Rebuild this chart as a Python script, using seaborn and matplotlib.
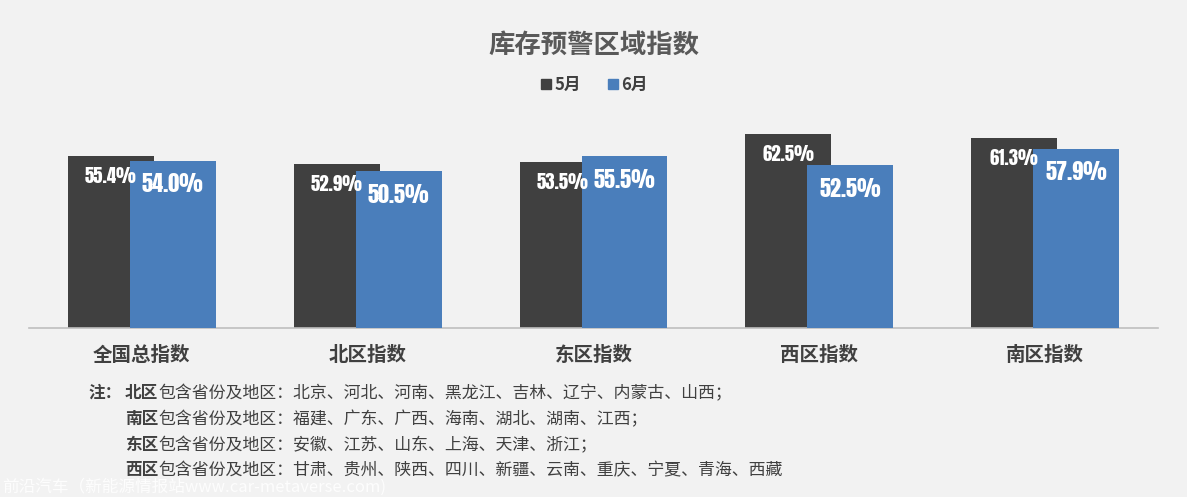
import numpy as np
import pandas as pd
import matplotlib
matplotlib.use("Agg")
import matplotlib.pyplot as plt
from matplotlib import font_manager
import seaborn as sns
from matplotlib.lines import Line2D

# ---------------- data ----------------
categories = ["全国总指数", "北区指数", "东区指数", "西区指数", "南区指数"]
may_values = [55.4, 52.9, 53.5, 62.5, 61.3]
june_values = [54.0, 50.5, 55.5, 52.5, 57.9]
series_names = ["5月", "6月"]
title_text = "库存预警区域指数"
note_prefix = "注："
note_regions = ["北区", "南区", "东区", "西区"]
note_texts = [
    "包含省份及地区：北京、河北、河南、黑龙江、吉林、辽宁、内蒙古、山西；",
    "包含省份及地区：福建、广东、广西、海南、湖北、湖南、江西；",
    "包含省份及地区：安徽、江苏、山东、上海、天津、浙江；",
    "包含省份及地区：甘肃、贵州、陕西、四川、新疆、云南、重庆、宁夏、青海、西藏",
]
watermark = "前沿汽车（新能源情报站www.car-metaverse.com)"

# ---------------- style ----------------
sns.set_style("white")
plt.rcParams["font.family"] = ["Noto Sans CJK SC", "DejaVu Sans"]
BG = "#f2f2f2"
DARK = "#404040"
BLUE = "#4a7ebb"
TEXT = "#404040"


def _w(v):
    try:
        return int(v)
    except Exception:
        return 700 if "bold" in str(v) else 400


fonts = font_manager.fontManager.ttflist
NUM_FONT, NUM_WEIGHT, NUM_SCALE = "DejaVu Sans", "bold", 0.8
for cand, need_bold, scale in [("Anton", False, 0.9), ("Oswald", True, 1.0),
                               ("Roboto Condensed", True, 0.95),
                               ("Liberation Sans Narrow", True, 0.9)]:
    ok = [f for f in fonts if f.name == cand and (not need_bold or _w(f.weight) >= 600)]
    if ok:
        NUM_FONT, NUM_WEIGHT, NUM_SCALE = cand, ("bold" if need_bold else "normal"), scale
        break
NUM_FAMILY = [NUM_FONT, "DejaVu Sans"]

W, H = 1187, 497
fig = plt.figure(figsize=(W / 100, H / 100), dpi=100, facecolor=BG)
ax = fig.add_axes([29 / W, 1 - 328 / H, (1158 - 29) / W, 217 / H])
ax.set_facecolor(BG)

pos = np.arange(len(categories))
off = 0.137
bw = 0.38
df_may = pd.DataFrame({"x": pos - off, "y": may_values})
df_jun = pd.DataFrame({"x": pos + off, "y": june_values})

sns.barplot(data=df_may, x="x", y="y", native_scale=True, width=bw, color=DARK,
            saturation=1, linewidth=0, errorbar=None, ax=ax, zorder=2)
sns.barplot(data=df_jun, x="x", y="y", native_scale=True, width=bw, color=BLUE,
            saturation=1, linewidth=0, errorbar=None, ax=ax, zorder=3)

for i in range(len(categories)):
    ax.annotate(f"{may_values[i]:.1f}%", xy=(pos[i] - off, may_values[i]),
                xytext=(0, -14.5), textcoords="offset points", ha="center", va="center",
                color="white", fontsize=15 * NUM_SCALE, fontweight=NUM_WEIGHT,
                family=NUM_FAMILY, zorder=6)
    ax.annotate(f"{june_values[i]:.1f}%", xy=(pos[i] + off, june_values[i]),
                xytext=(0, -17), textcoords="offset points", ha="center", va="center",
                color="white", fontsize=17.8 * NUM_SCALE, fontweight=NUM_WEIGHT,
                family=NUM_FAMILY, zorder=6)

ax.set_xlim(-0.5, len(categories) - 0.5)
ax.set_ylim(0, 70)
ax.set_yticks([])
ax.set_xlabel("")
ax.set_ylabel("")
ax.set_xticks(pos, categories)
ax.set_xticks(np.arange(-0.5, len(categories), 1), minor=True)
ax.tick_params(axis="x", which="major", length=0, pad=13, labelsize=14, labelcolor=TEXT)
ax.tick_params(axis="x", which="minor", length=4, width=1, color="#bfbfbf")
for t in ax.get_xticklabels():
    t.set_fontweight("bold")
for s in ["top", "left", "right"]:
    ax.spines[s].set_visible(False)
ax.spines["bottom"].set_color("#bfbfbf")
ax.spines["bottom"].set_linewidth(1.2)

fig.text(0.5, 1 - 45 / H, title_text, ha="center", va="center", fontsize=19,
         fontweight="bold", color="#595959")
handles = [Line2D([], [], marker="s", ls="", color=c, markersize=7, label=n)
           for c, n in zip([DARK, BLUE], series_names)]
fig.legend(handles=handles, loc="center", bbox_to_anchor=(0.5, 1 - 85 / H), ncol=2,
           frameon=False, prop={"weight": "bold", "size": 12}, labelcolor=TEXT,
           handletextpad=0.1, columnspacing=1.5, handlelength=0.8)

ys = [393, 419, 445, 470]
fig.text(88 / W, 1 - ys[0] / H, note_prefix, ha="left", va="center", fontsize=12,
         fontweight="bold", color=TEXT)
for region, txt, y in zip(note_regions, note_texts, ys):
    t = fig.text(125 / W, 1 - y / H, region, ha="left", va="center", fontsize=12,
                 fontweight="bold", color=TEXT)
    ax.annotate(txt, xy=(1, 0.5), xycoords=t, ha="left", va="center", fontsize=12.2,
                color=TEXT, annotation_clip=False)

fig.text(2 / W, 1 - 487 / H, watermark, ha="left", va="center", fontsize=12,
         color="white", alpha=0.85)

fig.savefig("out.png", dpi=100, facecolor=BG)
